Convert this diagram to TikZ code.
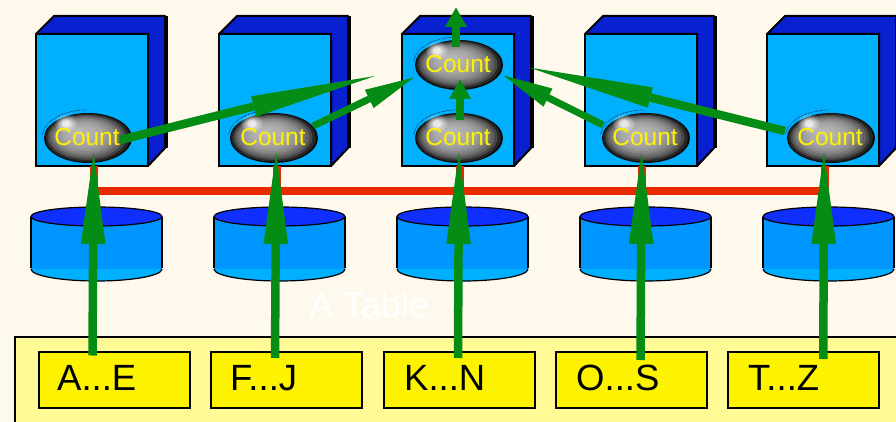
\documentclass[tikz,border=0pt]{standalone}
\usepackage{fontspec}
\setmainfont{Liberation Sans}
\usetikzlibrary{arrows.meta,calc,shapes.geometric}
\definecolor{bgc}{HTML}{FFF8EC}
\definecolor{front}{HTML}{00B0FF}
\definecolor{side}{HTML}{0820D0}
\definecolor{cylb}{HTML}{0096FF}
\definecolor{cylt}{HTML}{0F2FFF}
\definecolor{grn}{HTML}{058C14}
\definecolor{redl}{HTML}{E82A00}
\definecolor{panel}{HTML}{FFFA96}
\definecolor{ylw}{HTML}{FDF200}
\tikzset{
 x=1pt,y=-1pt,
 upar/.style={draw=grn,line width=8.5pt,-{Triangle[length=98pt,width=22pt]}},
 upsm/.style={draw=grn,line width=7.5pt,-{Triangle[length=20pt,width=20.5pt]}},
 longar/.style={draw=grn,line width=8.5pt},
 midar/.style={draw=grn,line width=7pt,-{Triangle[length=53pt,width=18pt]}},
 countn/.style={ellipse,minimum width=88pt,minimum height=50pt,inner sep=0pt,
   fill=black!95},
 lab/.style={draw=black,line width=2pt,fill=ylw,minimum width=151pt,minimum height=56.5pt,
   inner sep=0pt},
 labt/.style={anchor=base west,inner sep=0pt,font=\fontsize{36.5}{36.5}\selectfont},
}
\newcommand{\longconn}[2]{%
  \coordinate (m) at ($(#2)!125pt!(#1)$);
  \draw[longar] (#1) -- (m);
  \fill[grn] (#2) -- ($(m)!10.5pt!90:(#2)$) -- ($(m)!10.5pt!-90:(#2)$) -- cycle;
}
\begin{document}
\begin{tikzpicture}
\useasboundingbox (0,0) rectangle (896,422);
\fill[bgc] (0,0) rectangle (896,422);
% servers
\foreach \i/\x in {1/36,2/219,3/402,4/585,5/767}{
 \begin{scope}[shift={(\x,0)}]
  \draw[black,line width=3pt] (130.5,16) -- (130.5,148);
  \draw[line width=2pt,line join=round,fill=side] (0,34) -- (18,16) -- (129,16) -- (129,148) -- (112,166) -- (112,34) -- cycle;
  \node[draw=black,line width=2pt,fill=front,minimum width=112pt,minimum height=132pt,inner sep=0pt] (b\i) at (56,100) {};
 \end{scope}
}
% cylinders
\foreach \i/\x in {1/31,2/214,3/397,4/580,5/763}{
 \begin{scope}[shift={(\x,0)}]
  \fill[front] (0,269) arc[start angle=180,end angle=0,x radius=65.5,y radius=12] -- (132,217) -- (0,217) -- cycle;
  \fill[cylb] (0,217) rectangle (131,269);
  \draw[line width=1.2pt] (0,269) arc[start angle=180,end angle=0,x radius=65.5,y radius=12];
  \draw[line width=1.5pt] (0,217) -- (0,268) (131,217) -- (131,268);
  \node[ellipse,draw=black,line width=1.2pt,fill=cylt,minimum width=131pt,minimum height=19pt,inner sep=0pt] (d\i) at (65.5,216.5) {};
 \end{scope}
}
% red line
\draw[redl,line width=8.5pt] (94,190.8) -- (825,190.8);
\foreach \i/\x in {1/94,2/276.5,3/459.5,4/642,5/825}{
  \coordinate (r\i) at (\x,166);
  \draw[redl,line width=8pt] (r\i) -- (\x,190);
}
% panel
\fill[panel,draw=black,line width=2pt] (15,337) -- (899,337) -- (899,425) -- (15,425) -- cycle;
\node[lab] (k1) at (114.5,380) {};
\node[lab] (k2) at (286.5,380) {};
\node[lab] (k3) at (459,380) {};
\node[lab] (k4) at (631.5,380) {};
\node[lab] (k5) at (803.5,380) {};
\node[labt] (t1) at (57,390) {A...E};
\node[labt] (t2) at (230,390) {F...J};
\node[labt] (t3) at (404,390) {K...N};
\node[labt] (t4) at (576,390) {O...S};
\node[labt] (t5) at (748,390) {T...Z};
\node[text=white,font=\fontsize{35.8}{35.8}\selectfont,inner sep=0pt] (tbl) at (369,305) {A Table};
% count balls
\foreach \n/\x/\y in {c1/88/138,c2/274/138,c3/459/138,c4/646/138,c5/831/138,c6/459/65}{
  \draw[black,densely dotted,line width=.6pt] (\x,\y) ++(-45.3,-4) arc[start angle=185,end angle=268,x radius=45.5,y radius=26.5];
  \node[countn] (\n) at (\x,\y) {};
  \foreach \s/\g in {.96/85,.9/72,.84/62,.77/54,.7/47,.62/42,.54/38,.46/35,.38/33,.3/31,.2/29,.1/27}{
    \fill[black!\g] (\x-10*1+10*\s,\y-6+6*\s) ellipse[x radius=44*\s,y radius=25*\s];
  }
  \foreach \r/\o in {11/.15,9/.2,7/.25,5.5/.3,4/.5}{
    \fill[white,opacity=\o] (\x-22,\y-14.5) ellipse[x radius=\r,y radius=\r*.85];
  }
  \node[text=yellow,font=\fontsize{24.5}{24.5}\selectfont,inner sep=0pt,anchor=base] (\n t) at (\x-1,\y+8) {Count};
}
% vertical arrows
\foreach \i/\xs/\xe/\s in {1/92.5/93.7/355.5,2/275/276.3/358,3/458/459/358,4/640.5/641.7/360,5/823.3/824/359}{
  \coordinate (e\i) at (\xe,146);
  \coordinate (s\i) at (\xs,\s);
  \draw[upar] (s\i) -- (e\i);
}
% between counts
\coordinate (a1) at (375,76);
\coordinate (a2) at (417,76);
\coordinate (a3) at (500.5,74);
\coordinate (a4) at (529,67.5);
\coordinate (a5) at (460,79);
\coordinate (a6) at (456,7);
\coordinate (f1) at (120,140);
\coordinate (f2) at (313,126);
\coordinate (f3) at (603,125);
\coordinate (f4) at (785,131);
\coordinate (f5) at (460,120);
\coordinate (f6) at (456,47.5);
\longconn{f1}{a1}
\longconn{f4}{a4}
\draw[midar] (f2) -- (a2);
\draw[midar] (f3) -- (a3);
\draw[upsm] (f5) -- (a5);
\draw[upsm] (f6) -- (a6);
\end{tikzpicture}
\end{document}
